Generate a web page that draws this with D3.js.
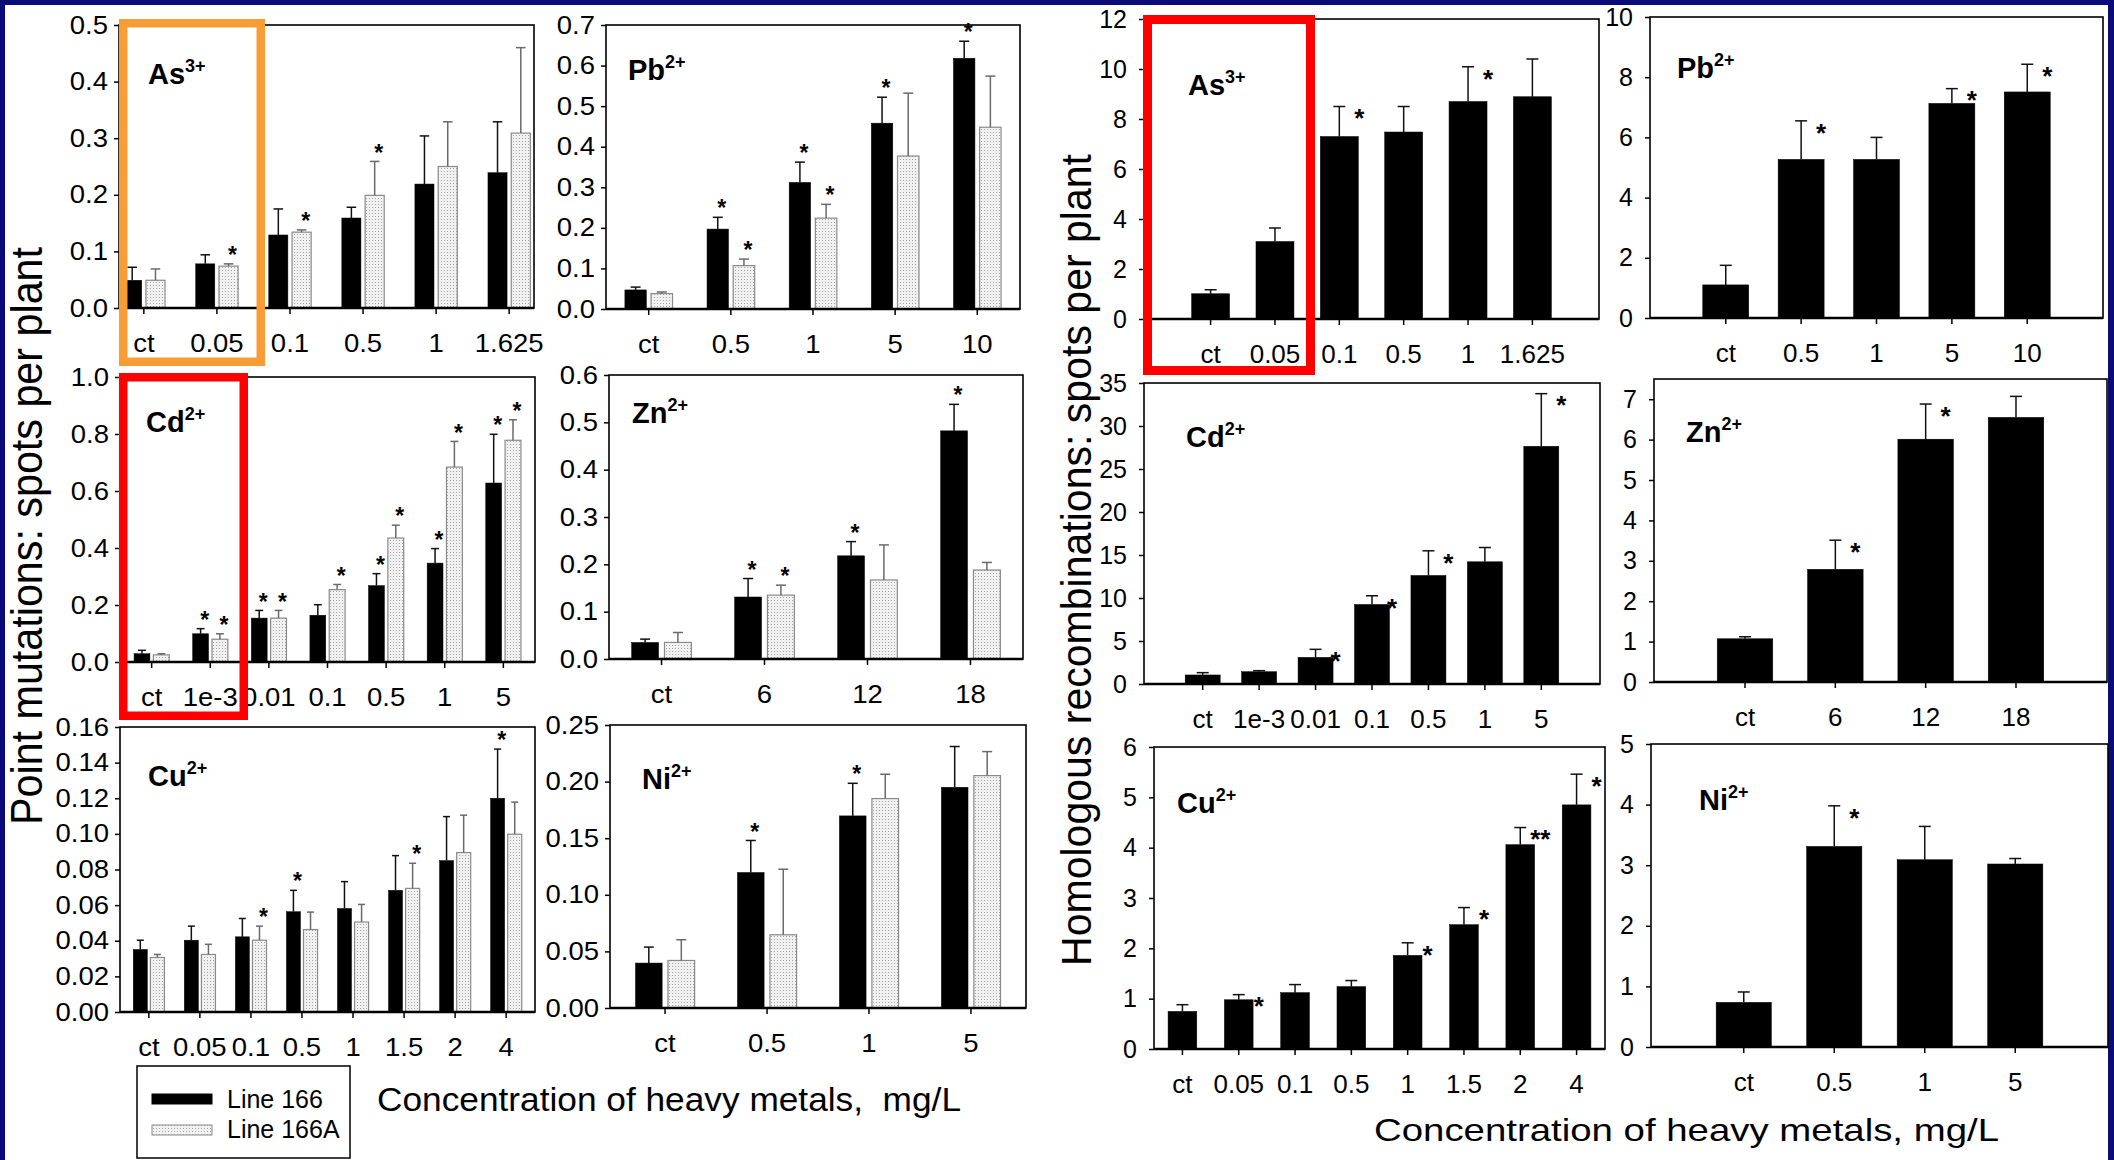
<!DOCTYPE html>
<html>
<head>
<meta charset="utf-8">
<script src="https://cdn.jsdelivr.net/npm/d3@7"></script>
<style>
  body { margin: 0; background: #0a0a78; }
  svg { display: block; }
  text { font-family: "Liberation Sans", Arial, sans-serif; }
</style>
</head>
<body>
<svg id="fig" width="2114" height="1160"></svg>
<script>
// ---------- point mutations (Line 166 black, Line 166A dotted): mean and top of error bar ----------
const asCats = ["ct", "0.05", "0.1", "0.5", "1", "1.625"];
const asPm166   = [0.049, 0.078, 0.129, 0.159, 0.219, 0.239];
const asPm166E  = [0.072, 0.094, 0.175, 0.178, 0.304, 0.329];
const asPm166A  = [0.049, 0.074, 0.134, 0.199, 0.250, 0.309];
const asPm166AE = [0.069, 0.078, 0.138, 0.259, 0.329, 0.460];
const asPmStars = [[1, 1], [2, 1], [3, 1]];

const pbCats = ["ct", "0.5", "1", "5", "10"];
const pbPm166   = [0.047, 0.197, 0.312, 0.458, 0.618];
const pbPm166E  = [0.054, 0.226, 0.362, 0.522, 0.660];
const pbPm166A  = [0.038, 0.107, 0.224, 0.377, 0.448];
const pbPm166AE = [0.042, 0.123, 0.258, 0.532, 0.574];
const pbPmStars = [[1, 0], [1, 1], [2, 0], [2, 1], [3, 0], [4, 0]];

const cdCats = ["ct", "1e-3", "0.01", "0.1", "0.5", "1", "5"];
const cdPm166   = [0.029, 0.099, 0.154, 0.164, 0.268, 0.347, 0.628];
const cdPm166E  = [0.041, 0.117, 0.181, 0.201, 0.310, 0.398, 0.799];
const cdPm166A  = [0.025, 0.080, 0.154, 0.254, 0.435, 0.684, 0.778];
const cdPm166AE = [0.029, 0.099, 0.181, 0.272, 0.480, 0.774, 0.850];
const cdPmStars = [[1, 0], [1, 1], [2, 0], [2, 1], [3, 1], [4, 0], [4, 1], [5, 0], [5, 1], [6, 0], [6, 1]];

const znCats = ["ct", "6", "12", "18"];
const znPm166   = [0.035, 0.131, 0.218, 0.482];
const znPm166E  = [0.042, 0.170, 0.248, 0.538];
const znPm166A  = [0.035, 0.135, 0.167, 0.188];
const znPm166AE = [0.056, 0.156, 0.241, 0.204];
const znPmStars = [[1, 0], [1, 1], [2, 0], [3, 0]];

const cuCats = ["ct", "0.05", "0.1", "0.5", "1", "1.5", "2", "4"];
const cuPm166   = [0.0351, 0.0403, 0.0422, 0.0563, 0.0581, 0.0683, 0.0850, 0.1200];
const cuPm166E  = [0.0403, 0.0482, 0.0525, 0.0683, 0.0732, 0.0878, 0.1097, 0.1476];
const cuPm166A  = [0.0306, 0.0323, 0.0403, 0.0463, 0.0505, 0.0694, 0.0895, 0.0998];
const cuPm166AE = [0.0323, 0.0380, 0.0482, 0.0561, 0.0604, 0.0835, 0.1105, 0.1178];
const cuPmStars = [[2, 1], [3, 0], [5, 1], [7, 0]];

const niCats = ["ct", "0.5", "1", "5"];
const niPm166   = [0.0397, 0.1197, 0.1697, 0.1950];
const niPm166E  = [0.0538, 0.1480, 0.1985, 0.2310];
const niPm166A  = [0.0420, 0.0647, 0.1850, 0.2053];
const niPm166AE = [0.0603, 0.1226, 0.2065, 0.2265];
const niPmStars = [[1, 0], [2, 0]];

// ---------- homologous recombinations (Line 166 only) ----------
const asHr  = [1.01, 3.10, 7.30, 7.48, 8.70, 8.89];
const asHrE = [1.17, 3.64, 8.50, 8.50, 10.09, 10.40];
const asHrStars = [[2, "*"], [4, "*"]];

const pbHr  = [1.10, 5.27, 5.27, 7.13, 7.51];
const pbHrE = [1.75, 6.55, 6.00, 7.62, 8.43];
const pbHrStars = [[1, "*"], [3, "*"], [4, "*"]];

const cdHr  = [1.05, 1.43, 3.10, 9.25, 12.62, 14.21, 27.64];
const cdHrE = [1.32, 1.55, 4.03, 10.26, 15.49, 15.87, 33.76];
const cdHrStars = [[2, "*"], [3, "*"], [4, "*"], [6, "*"]];

const znHr  = [1.07, 2.79, 6.01, 6.55];
const znHrE = [1.12, 3.51, 6.88, 7.07];
const znHrStars = [[1, "*"], [2, "*"]];

const cuHr  = [0.747, 0.978, 1.12, 1.24, 1.86, 2.47, 4.06, 4.85];
const cuHrE = [0.88, 1.08, 1.28, 1.36, 2.11, 2.81, 4.40, 5.46];
const cuHrStars = [[1, "*"], [4, "*"], [5, "*"], [6, "**"], [7, "*"]];

const niHr  = [0.737, 3.31, 3.09, 3.02];
const niHrE = [0.908, 3.98, 3.64, 3.11];
const niHrStars = [[1, "*"]];

const legendLabels = ["Line 166", "Line 166A"];

// ---------- layout (frame boxes in page pixels) ----------
const panels = [
  { ion: "As", chg: "3+", cats: asCats, s: [[asPm166, asPm166E], [asPm166A, asPm166AE]], stars: asPmStars,
    x0: 119, x1: 534, y0: 25, y1: 308, max: 0.5, step: 0.1, fmt: ".1f", pi: 0.42, po: 0.05, lx: 29, ly: 59 },
  { ion: "Pb", chg: "2+", cats: pbCats, s: [[pbPm166, pbPm166E], [pbPm166A, pbPm166AE]], stars: pbPmStars,
    x0: 606, x1: 1020, y0: 25, y1: 309, max: 0.7, step: 0.1, fmt: ".1f", pi: 0.42, po: 0.23, lx: 22, ly: 55 },
  { ion: "Cd", chg: "2+", cats: cdCats, s: [[cdPm166, cdPm166E], [cdPm166A, cdPm166AE]], stars: cdPmStars,
    x0: 120, x1: 535, y0: 377, y1: 662, max: 1.0, step: 0.2, fmt: ".1f", pi: 0.40, po: 0.24, lx: 26, ly: 55 },
  { ion: "Zn", chg: "2+", cats: znCats, s: [[znPm166, znPm166E], [znPm166A, znPm166AE]], stars: znPmStars,
    x0: 609, x1: 1023, y0: 375, y1: 659, max: 0.6, step: 0.1, fmt: ".1f", pi: 0.42, po: 0.22, lx: 23, ly: 48 },
  { ion: "Cu", chg: "2+", cats: cuCats, s: [[cuPm166, cuPm166E], [cuPm166A, cuPm166AE]], stars: cuPmStars,
    x0: 120, x1: 535, y0: 727, y1: 1012, max: 0.16, step: 0.02, fmt: ".2f", pi: 0.39, po: 0.26, lx: 28, ly: 59 },
  { ion: "Ni", chg: "2+", cats: niCats, s: [[niPm166, niPm166E], [niPm166A, niPm166AE]], stars: niPmStars,
    x0: 610, x1: 1026, y0: 725, y1: 1008, max: 0.25, step: 0.05, fmt: ".2f", pi: 0.42, po: 0.25, lx: 32, ly: 64 },

  { ion: "As", chg: "3+", cats: asCats, s: [[asHr, asHrE]], stars: asHrStars, right: true,
    x0: 1144, x1: 1599, y0: 19, y1: 319, max: 12, step: 2, fmt: "d", pi: 0.41, po: 0.74, lx: 44, ly: 76 },
  { ion: "Pb", chg: "2+", cats: pbCats, s: [[pbHr, pbHrE]], stars: pbHrStars, right: true,
    x0: 1650, x1: 2103, y0: 17, y1: 318, max: 10, step: 2, fmt: "d", pi: 0.39, po: 0.70, lx: 27, ly: 61 },
  { ion: "Cd", chg: "2+", cats: cdCats, s: [[cdHr, cdHrE]], stars: cdHrStars, right: true,
    x0: 1144, x1: 1600, y0: 383, y1: 684, max: 35, step: 5, fmt: "d", pi: 0.38, po: 0.73, lx: 42, ly: 64 },
  { ion: "Zn", chg: "2+", cats: znCats, s: [[znHr, znHrE]], stars: znHrStars, right: true,
    x0: 1654, x1: 2107, y0: 379, y1: 682, max: 7.5, tmax: 7, step: 1, fmt: "d", pi: 0.385, po: 0.70, lx: 32, ly: 63 },
  { ion: "Cu", chg: "2+", cats: cuCats, s: [[cuHr, cuHrE]], stars: cuHrStars, right: true,
    x0: 1154, x1: 1605, y0: 747, y1: 1049, max: 6, step: 1, fmt: "d", pi: 0.49, po: 0.25, lx: 23, ly: 66 },
  { ion: "Ni", chg: "2+", cats: niCats, s: [[niHr, niHrE]], stars: niHrStars, right: true,
    x0: 1651, x1: 2108, y0: 744, y1: 1047, max: 5, step: 1, fmt: "d", pi: 0.39, po: 0.72, lx: 48, ly: 66 }
];

const svg = d3.select("#fig");

// dotted fill used for Line 166A
const pat = svg.append("defs").append("pattern")
  .attr("id", "dots").attr("width", 3).attr("height", 3)
  .attr("patternUnits", "userSpaceOnUse");
pat.append("rect").attr("width", 3).attr("height", 3).attr("fill", "#f1f1f1");
pat.append("rect").attr("width", 1).attr("height", 1).attr("fill", "#a4a4a4");

// white slide area inside the navy border
svg.append("rect").attr("x", 5).attr("y", 5).attr("width", 2103).attr("height", 1155).attr("fill", "#fff");

// the scanned left figure has slightly wider numerals
function widen(sel, k) {
  sel.each(function() {
    const l = this.getComputedTextLength();
    d3.select(this).attr("textLength", l * k).attr("lengthAdjust", "spacingAndGlyphs");
  });
}

function drawPanel(p) {
  const g = svg.append("g");
  const tickFont = 25;
  const catFont = p.right ? 26 : 25;
  const stretch = p.right ? 1 : 1.1;

  const x = d3.scaleBand().domain(p.cats).range([p.x0, p.x1])
    .paddingInner(p.pi).paddingOuter(p.po);
  const y = d3.scaleLinear().domain([0, p.max]).range([p.y1, p.y0]);
  const inner = d3.scaleBand().domain(d3.range(p.s.length))
    .range([0, x.bandwidth()]).paddingInner(p.s.length > 1 ? 0.18 : 0);

  // y axis
  const ticks = d3.range(0, (p.tmax || p.max) + p.step / 2, p.step);
  const ya = g.append("g").attr("transform", `translate(${p.x0},0)`)
    .call(d3.axisLeft(y).tickValues(ticks).tickFormat(d3.format(p.fmt))
      .tickSizeInner(5).tickSizeOuter(0).tickPadding(p.right ? 12 : 6));
  ya.select(".domain").remove();
  ya.selectAll("line").attr("stroke", "#000").attr("stroke-width", 1.5);
  ya.selectAll("text").style("font-size", tickFont + "px").attr("fill", "#000");
  widen(ya.selectAll("text"), stretch);

  // x axis (category labels)
  const xa = g.append("g").attr("transform", `translate(0,${p.y1})`)
    .call(d3.axisBottom(x).tickSizeInner(6).tickSizeOuter(0));
  xa.select(".domain").remove();
  xa.selectAll("line").attr("stroke", "#000").attr("stroke-width", 1.5);
  xa.selectAll("text").attr("y", 44).attr("dy", null)
    .style("font-size", catFont + "px").attr("fill", "#000");
  widen(xa.selectAll("text"), stretch);

  // bars
  p.s.forEach((ser, si) => {
    const vals = ser[0], errs = ser[1];
    const light = si === 1;
    const bw = inner.bandwidth();
    const cap = Math.min(p.right ? 12 : 10, bw * 0.5);
    const bx = (i) => x(p.cats[i]) + inner(si);

    g.selectAll(null).data(vals).enter().append("rect")
      .attr("x", (d, i) => bx(i))
      .attr("y", d => y(d))
      .attr("width", bw)
      .attr("height", d => p.y1 - y(d))
      .attr("fill", light ? "url(#dots)" : "#000")
      .attr("stroke", light ? "#8a8a8a" : "#000")
      .attr("stroke-width", light ? 1.2 : 0.5);

    const ec = light ? "#6a6a6a" : "#111";
    g.selectAll(null).data(errs).enter().append("line")
      .attr("x1", (d, i) => bx(i) + bw / 2).attr("x2", (d, i) => bx(i) + bw / 2)
      .attr("y1", (d, i) => y(vals[i])).attr("y2", d => y(d))
      .attr("stroke", ec).attr("stroke-width", 1.5);
    g.selectAll(null).data(errs).enter().append("line")
      .attr("x1", (d, i) => bx(i) + bw / 2 - cap / 2).attr("x2", (d, i) => bx(i) + bw / 2 + cap / 2)
      .attr("y1", d => y(d)).attr("y2", d => y(d))
      .attr("stroke", ec).attr("stroke-width", 1.5);
  });

  // significance asterisks
  const bw = inner.bandwidth();
  p.stars.forEach(st => {
    let cx, cy, txt;
    if (p.right) {
      const i = st[0];
      cx = x(p.cats[i]) + bw / 2 + 20;
      cy = y(p.s[0][1][i]) + 6;
      txt = st[1];
    } else {
      const i = st[0], si = st[1];
      cx = x(p.cats[i]) + inner(si) + bw / 2 + 4;
      cy = y(p.s[si][1][i]) - 14;
      txt = "*";
    }
    const fs = p.right ? 26 : 23;
    g.append("text").attr("x", cx).attr("y", cy + fs * 0.57)
      .attr("text-anchor", "middle").style("font-size", fs + "px")
      .style("font-weight", "bold").text(txt);
  });

  // frame and baseline
  g.append("rect").attr("x", p.x0).attr("y", p.y0)
    .attr("width", p.x1 - p.x0).attr("height", p.y1 - p.y0)
    .attr("fill", "none").attr("stroke", "#000").attr("stroke-width", 1.6);
  g.append("line").attr("x1", p.x0).attr("x2", p.x1).attr("y1", p.y1).attr("y2", p.y1)
    .attr("stroke", "#000").attr("stroke-width", 2.6);

  // ion label
  const t = g.append("text").attr("x", p.x0 + p.lx).attr("y", p.y0 + p.ly)
    .style("font-weight", "bold").style("font-size", "29px");
  t.append("tspan").text(p.ion);
  t.append("tspan").attr("dy", -12).style("font-size", "18px").text(p.chg);
}

panels.forEach(drawPanel);

// axis titles
svg.append("text")
  .attr("transform", "translate(42,536) rotate(-90)")
  .attr("text-anchor", "middle").attr("textLength", 578).attr("lengthAdjust", "spacingAndGlyphs")
  .style("font-size", "44px").text("Point mutations: spots per plant");
svg.append("text")
  .attr("transform", "translate(1091,560) rotate(-90)")
  .attr("text-anchor", "middle").attr("textLength", 812).attr("lengthAdjust", "spacingAndGlyphs")
  .style("font-size", "42px").text("Homologous recombinations: spots per plant");
svg.append("text")
  .attr("x", 377).attr("y", 1111).attr("textLength", 584).attr("lengthAdjust", "spacingAndGlyphs")
  .style("font-size", "34px").style("white-space", "pre")
  .text("Concentration of heavy metals,  mg/L");
svg.append("text")
  .attr("x", 1374).attr("y", 1141).attr("textLength", 625).attr("lengthAdjust", "spacingAndGlyphs")
  .style("font-size", "32px")
  .text("Concentration of heavy metals, mg/L");

// legend
const lg = svg.append("g");
lg.append("rect").attr("x", 137).attr("y", 1066).attr("width", 213).attr("height", 92)
  .attr("fill", "#fff").attr("stroke", "#000").attr("stroke-width", 1.5);
legendLabels.forEach((lab, i) => {
  lg.append("rect").attr("x", 152).attr("y", 1094 + i * 31).attr("width", 60).attr("height", 10)
    .attr("fill", i ? "url(#dots)" : "#000").attr("stroke", i ? "#8a8a8a" : "#000");
  lg.append("text").attr("x", 227).attr("y", 1108 + i * 30)
    .style("font-size", "25px").text(lab);
});

// highlight boxes drawn on the slide
const boxes = [
  { x: 119, y: 19, w: 146, h: 347, c: "#f89c35", sw: 8.5 },
  { x: 119, y: 373, w: 129, h: 347, c: "#ff0000", sw: 8.5 },
  { x: 1143, y: 15, w: 172, h: 360, c: "#ff0000", sw: 9 }
];
svg.selectAll(null).data(boxes).enter().append("rect")
  .attr("x", d => d.x + d.sw / 2).attr("y", d => d.y + d.sw / 2)
  .attr("width", d => d.w - d.sw).attr("height", d => d.h - d.sw)
  .attr("fill", "none").attr("stroke", d => d.c).attr("stroke-width", d => d.sw);
</script>
</body>
</html>
